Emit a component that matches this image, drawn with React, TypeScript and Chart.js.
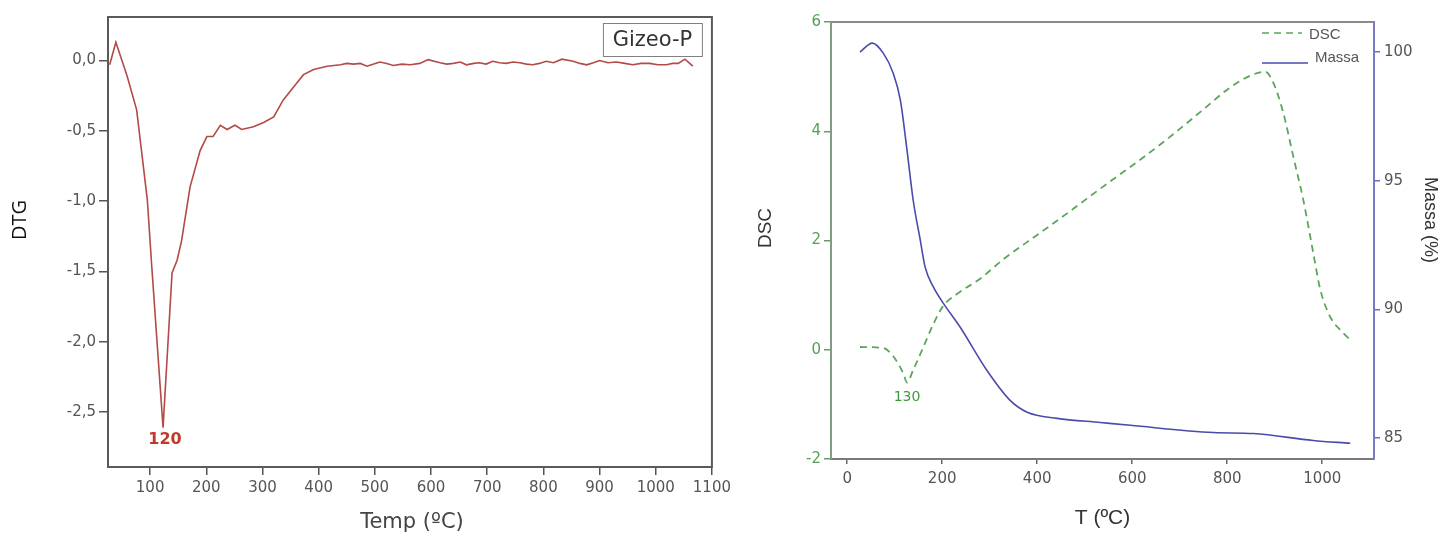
import React, { useEffect, useRef } from "react";
import { Chart, registerables } from "chart.js";

Chart.register(...registerables);

// ---------- Left chart: DTG ----------
const dtgTemp = [28, 39, 59, 76, 95, 103, 123, 139, 148, 156, 171, 189, 201, 212, 225, 237, 251, 263, 284, 302, 320, 337, 355, 373, 391, 415, 439, 450, 462, 474, 486, 498, 509, 521, 533, 548, 563, 580, 595, 616, 628, 640, 652, 663, 676, 686, 698, 710, 722, 734, 746, 758, 770, 781, 793, 805, 818, 833, 853, 865, 877, 889, 900, 915, 930, 945, 959, 974, 989, 1004, 1019, 1030, 1040, 1052, 1066];
const dtgValues = [-0.03, 0.13, -0.11, -0.35, -0.99, -1.47, -2.61, -1.51, -1.42, -1.28, -0.9, -0.64, -0.54, -0.54, -0.46, -0.49, -0.46, -0.49, -0.47, -0.44, -0.4, -0.28, -0.19, -0.1, -0.064, -0.04, -0.03, -0.02, -0.025, -0.02, -0.04, -0.025, -0.01, -0.02, -0.035, -0.025, -0.03, -0.02, 0.007, -0.015, -0.025, -0.02, -0.01, -0.03, -0.02, -0.015, -0.025, -0.005, -0.015, -0.02, -0.01, -0.015, -0.025, -0.03, -0.02, -0.005, -0.015, 0.01, -0.005, -0.02, -0.03, -0.015, 0.0, -0.015, -0.01, -0.02, -0.03, -0.02, -0.02, -0.03, -0.03, -0.02, -0.02, 0.01, -0.04];
const dtgXTicks = [100, 200, 300, 400, 500, 600, 700, 800, 900, 1000, 1100];
const dtgXTickLabels = ["100", "200", "300", "400", "500", "600", "700", "800", "900", "1000", "1100"];
const dtgYTicks = [0, -0.5, -1, -1.5, -2, -2.5];
const dtgYTickLabels = ["0,0", "-0,5", "-1,0", "-1,5", "-2,0", "-2,5"];
const dtgPeakLabel = "120";
const dtgSampleName = "Gizeo-P";

// ---------- Right chart: DSC + Massa ----------
const dscTemp = [27, 76, 97, 118, 126, 139, 158, 181, 202, 231, 280, 328, 406, 476, 533, 560, 631, 687, 750, 806, 855, 880, 897, 918, 939, 960, 981, 996, 1017, 1044, 1063];
const dscValues = [0.05, 0.03, -0.12, -0.43, -0.6, -0.37, 0.0, 0.46, 0.8, 1.02, 1.3, 1.65, 2.14, 2.58, 2.95, 3.12, 3.57, 3.95, 4.4, 4.8, 5.04, 5.09, 4.89, 4.34, 3.54, 2.75, 1.78, 1.1, 0.6, 0.31, 0.15];
const massTemp = [27, 53, 76, 97, 112, 126, 139, 154, 164, 182, 203, 238, 294, 343, 379, 442, 533, 596, 771, 855, 981, 1059];
const massValues = [100.0, 100.35, 99.96, 99.18, 98.13, 96.19, 94.24, 92.68, 91.65, 90.85, 90.22, 89.3, 87.63, 86.46, 86.0, 85.76, 85.6, 85.49, 85.21, 85.17, 84.9, 84.79];
const tXTicks = [0, 200, 400, 600, 800, 1000];
const tXTickLabels = ["0", "200", "400", "600", "800", "1000"];
const dscYTicks = [-2, 0, 2, 4, 6];
const dscYTickLabels = ["-2", "0", "2", "4", "6"];
const massYTicks = [85, 90, 95, 100];
const massYTickLabels = ["85", "90", "95", "100"];
const dscPeakLabel = "130";

const FONT = "DejaVu Sans";
const SANS = "Liberation Sans";

function setTicks(values: number[]) {
  return (scale: any) => {
    scale.ticks = values.map((v) => ({ value: v }));
  };
}

const leftDecor = {
  id: "leftDecor",
  afterDraw(chart: any) {
    const { ctx, chartArea: a, scales } = chart;
    ctx.save();
    ctx.strokeStyle = "#5a5a5a";
    ctx.lineWidth = 2;
    ctx.strokeRect(a.left, a.top, a.right - a.left, a.bottom - a.top);
    const bw = 99, bh = 33;
    const bx = a.right - 10 - bw, by = a.top + 6;
    ctx.lineWidth = 1;
    ctx.strokeStyle = "#808080";
    ctx.strokeRect(bx + 0.5, by + 0.5, bw, bh);
    ctx.fillStyle = "#333";
    ctx.font = `21px "${FONT}"`;
    ctx.textAlign = "center";
    ctx.textBaseline = "middle";
    ctx.fillText(dtgSampleName, bx + bw / 2, by + bh / 2 + 1);
    let mi = 0;
    dtgValues.forEach((v, i) => { if (v < dtgValues[mi]) mi = i; });
    const px = scales.x.getPixelForValue(dtgTemp[mi]);
    const py = scales.y.getPixelForValue(dtgValues[mi]);
    ctx.fillStyle = "#c0392b";
    ctx.font = `bold 16px "${FONT}"`;
    ctx.fillText(dtgPeakLabel, px + 2, py + 12);
    ctx.fillStyle = "#111";
    ctx.font = `20px "Open Sans"`;
    ctx.save();
    ctx.translate(a.left - 88, a.top + 203);
    ctx.rotate(-Math.PI / 2);
    ctx.fillText("DTG", 0, 0);
    ctx.restore();
    ctx.fillStyle = "#444";
    ctx.font = `21px "${FONT}"`;
    ctx.fillText("Temp (ºC)", (a.left + a.right) / 2 + 2, a.bottom + 56);
    ctx.restore();
  },
};

const rightDecor = {
  id: "rightDecor",
  afterDraw(chart: any) {
    const { ctx, chartArea: a, scales } = chart;
    ctx.save();
    ctx.strokeStyle = "#8a8a8a";
    ctx.lineWidth = 2;
    ctx.beginPath();
    ctx.moveTo(a.left, a.top);
    ctx.lineTo(a.right, a.top);
    ctx.stroke();
    ctx.lineWidth = 1.6;
    ctx.strokeStyle = "#5ca65c";
    ctx.setLineDash([7, 5]);
    ctx.beginPath();
    ctx.moveTo(a.right - 112, a.top + 11);
    ctx.lineTo(a.right - 72, a.top + 11);
    ctx.stroke();
    ctx.setLineDash([]);
    ctx.strokeStyle = "#4b4bab";
    ctx.beginPath();
    ctx.moveTo(a.right - 112, a.top + 41);
    ctx.lineTo(a.right - 66, a.top + 41);
    ctx.stroke();
    ctx.fillStyle = "#555";
    ctx.font = `15px "${SANS}"`;
    ctx.textAlign = "left";
    ctx.textBaseline = "middle";
    ctx.fillText("DSC", a.right - 65, a.top + 13);
    ctx.fillText("Massa", a.right - 59, a.top + 36);
    let mi = 0;
    dscValues.forEach((v, i) => { if (v < dscValues[mi]) mi = i; });
    const px = scales.x.getPixelForValue(dscTemp[mi]);
    const py = scales.y.getPixelForValue(dscValues[mi]);
    ctx.fillStyle = "#3c9a3c";
    ctx.font = `14px "${FONT}"`;
    ctx.textAlign = "center";
    ctx.fillText(dscPeakLabel, px, py + 15);
    ctx.fillStyle = "#333";
    ctx.font = `19px "${SANS}"`;
    ctx.save();
    ctx.translate(a.left - 65, a.top + 206);
    ctx.rotate(-Math.PI / 2);
    ctx.fillText("DSC", 0, 0);
    ctx.restore();
    ctx.save();
    ctx.font = `18px "${SANS}"`;
    ctx.translate(a.right + 56, a.top + 198);
    ctx.rotate(Math.PI / 2);
    ctx.fillText("Massa (%)", 0, 0);
    ctx.restore();
    ctx.font = `21px "${SANS}"`;
    ctx.fillText("T (ºC)", (a.left + a.right) / 2, a.bottom + 59);
    ctx.restore();
  },
};

export default function App() {
  const leftRef = useRef<HTMLCanvasElement | null>(null);
  const rightRef = useRef<HTMLCanvasElement | null>(null);

  useEffect(() => {
    if (!leftRef.current || !rightRef.current) return;

    const left = new Chart(leftRef.current, {
      type: "line",
      data: {
        datasets: [
          {
            label: "DTG",
            data: dtgTemp.map((t, i) => ({ x: t, y: dtgValues[i] })),
            borderColor: "#b24a48",
            borderWidth: 1.6,
            pointRadius: 0,
            tension: 0,
            fill: false,
          },
        ],
      },
      options: {
        animation: false,
        responsive: false,
        devicePixelRatio: 1,
        layout: { padding: { left: 0, top: 17, right: 23, bottom: 0 } },
        plugins: { legend: { display: false }, tooltip: { enabled: false } },
        scales: {
          x: {
            type: "linear",
            min: 25,
            max: 1100,
            afterBuildTicks: setTicks(dtgXTicks),
            afterFit: (s: any) => { s.height = 70; },
            border: { display: false },
            grid: { drawOnChartArea: false, drawTicks: true, tickLength: 8, color: "#555", lineWidth: 1.5 },
            ticks: {
              autoSkip: false,
              maxRotation: 0,
              padding: 4,
              color: "#555",
              font: { family: FONT, size: 15 },
              callback: (_v: any, i: number) => dtgXTickLabels[i],
            },
          },
          y: {
            type: "linear",
            min: -2.89,
            max: 0.31,
            afterBuildTicks: setTicks(dtgYTicks),
            afterFit: (s: any) => { s.width = 108; },
            border: { display: false },
            grid: { drawOnChartArea: false, drawTicks: true, tickLength: 9, color: "#555", lineWidth: 1.5 },
            ticks: {
              autoSkip: false,
              padding: 3,
              color: "#555",
              font: { family: FONT, size: 15 },
              callback: (_v: any, i: number) => dtgYTickLabels[i],
            },
          },
        },
      },
      plugins: [leftDecor],
    } as any);

    const right = new Chart(rightRef.current, {
      type: "line",
      data: {
        datasets: [
          {
            label: "DSC",
            data: dscTemp.map((t, i) => ({ x: t, y: dscValues[i] })),
            borderColor: "#5ca65c",
            borderWidth: 1.8,
            borderDash: [7, 5],
            pointRadius: 0,
            cubicInterpolationMode: "monotone",
            yAxisID: "y",
            fill: false,
          },
          {
            label: "Massa",
            data: massTemp.map((t, i) => ({ x: t, y: massValues[i] })),
            borderColor: "#4b4bab",
            borderWidth: 1.6,
            pointRadius: 0,
            cubicInterpolationMode: "monotone",
            yAxisID: "y1",
            fill: false,
          },
        ],
      },
      options: {
        animation: false,
        responsive: false,
        devicePixelRatio: 1,
        layout: { padding: { left: 0, top: 22, right: 0, bottom: 0 } },
        plugins: { legend: { display: false }, tooltip: { enabled: false } },
        scales: {
          x: {
            type: "linear",
            min: -34,
            max: 1109,
            afterBuildTicks: setTicks(tXTicks),
            afterFit: (s: any) => { s.height = 78; },
            border: { display: true, color: "#7a7a7a", width: 2 },
            grid: { drawOnChartArea: false, drawTicks: true, tickLength: 5, color: "#666", lineWidth: 1.5 },
            ticks: {
              autoSkip: false,
              maxRotation: 0,
              padding: 6,
              color: "#555",
              font: { family: FONT, size: 15 },
              callback: (_v: any, i: number) => tXTickLabels[i],
            },
          },
          y: {
            type: "linear",
            position: "left",
            min: -2,
            max: 6,
            afterBuildTicks: setTicks(dscYTicks),
            afterFit: (s: any) => { s.width = 96; },
            border: { display: true, color: "#829e82", width: 2 },
            grid: { drawOnChartArea: false, drawTicks: true, tickLength: 7, color: "#6a9a6a", lineWidth: 1.5 },
            ticks: {
              autoSkip: false,
              padding: 3,
              color: "#55a055",
              font: { family: FONT, size: 15 },
              callback: (_v: any, i: number) => dscYTickLabels[i],
            },
          },
          y1: {
            type: "linear",
            position: "right",
            min: 84.18,
            max: 101.17,
            afterBuildTicks: setTicks(massYTicks),
            afterFit: (s: any) => { s.width = 68; },
            border: { display: true, color: "#7b7bc4", width: 2 },
            grid: { drawOnChartArea: false, drawTicks: true, tickLength: 6, color: "#6b6bc0", lineWidth: 1.5 },
            ticks: {
              autoSkip: false,
              padding: 4,
              color: "#555",
              font: { family: FONT, size: 15 },
              callback: (_v: any, i: number) => massYTickLabels[i],
            },
          },
        },
      },
      plugins: [rightDecor],
    } as any);

    return () => {
      left.destroy();
      right.destroy();
    };
  }, []);

  return (
    <div style={{ position: "absolute", left: 0, top: 0, width: 1442, height: 537, background: "#fff" }}>
      <canvas ref={leftRef} width={735} height={537} style={{ position: "absolute", left: 0, top: 0, width: 735, height: 537 }} />
      <canvas ref={rightRef} width={707} height={537} style={{ position: "absolute", left: 735, top: 0, width: 707, height: 537 }} />
    </div>
  );
}
